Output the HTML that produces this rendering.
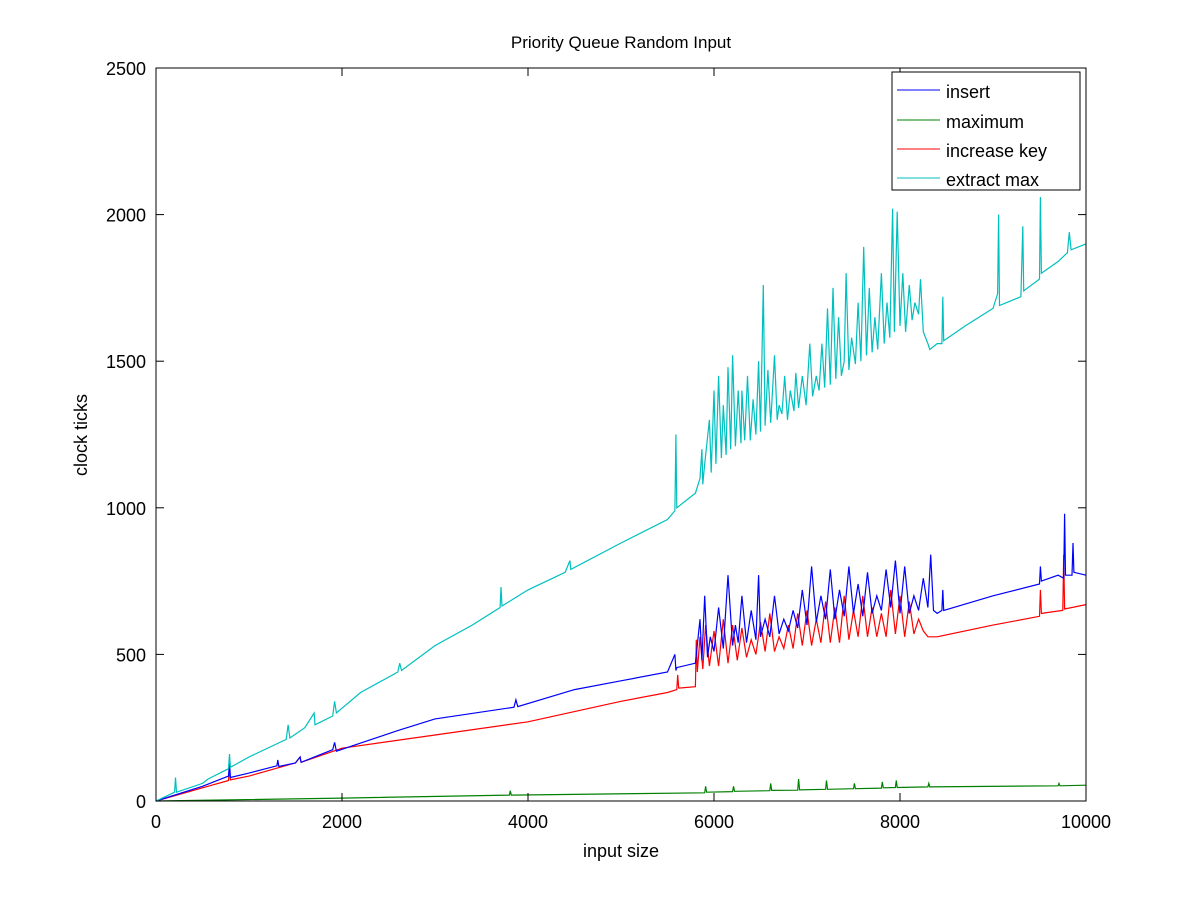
<!DOCTYPE html>
<html><head><meta charset="utf-8"><style>
body{margin:0;background:#fff;}
svg text{font-family:"Liberation Sans",sans-serif;fill:#000;}
</style></head><body>
<svg id="chart" width="1200" height="900" xmlns="http://www.w3.org/2000/svg">
<rect width="1200" height="900" fill="#fff"/>
<text x="621" y="48" font-size="17" text-anchor="middle">Priority Queue Random Input</text>
<g id="plot"></g>
<g id="axes"></g>
<text x="621" y="857" font-size="18" text-anchor="middle">input size</text>
<text x="87" y="435" font-size="18" text-anchor="middle" transform="rotate(-90 87 435)">clock ticks</text>
<g>
<rect x="892" y="72" width="188" height="118" fill="#fff" stroke="#000" stroke-width="1"/>
<line x1="897" y1="90" x2="940" y2="90" stroke="#0000ff"/><text x="946" y="98" font-size="18">insert</text>
<line x1="897" y1="120" x2="940" y2="120" stroke="#008000"/><text x="946" y="128" font-size="18">maximum</text>
<line x1="897" y1="149" x2="940" y2="149" stroke="#ff0000"/><text x="946" y="157" font-size="18">increase key</text>
<line x1="897" y1="178" x2="940" y2="178" stroke="#00bfbf"/><text x="946" y="186" font-size="18">extract max</text>
</g>
</svg>
<script>
const xTicks=[0,2000,4000,6000,8000,10000];
const yTicks=[0,500,1000,1500,2000,2500];
const extractX=[0,200,210,220,500,560,780,790,800,1000,1400,1420,1440,1600,1700,1710,1900,1920,1940,2200,2600,2620,2640,3000,3400,3700,3710,3720,4000,4400,4450,4460,5000,5500,5580,5590,5600,5800,5850,5870,5880,5900,5950,5970,6000,6020,6050,6080,6100,6130,6150,6180,6200,6230,6260,6290,6300,6330,6360,6390,6420,6450,6480,6500,6530,6550,6580,6610,6650,6680,6700,6730,6760,6790,6820,6860,6880,6910,6950,6990,7030,7060,7100,7130,7160,7190,7220,7250,7280,7310,7340,7370,7400,7420,7450,7480,7520,7550,7580,7610,7640,7670,7700,7730,7760,7800,7830,7860,7890,7920,7940,7970,8000,8030,8060,8100,8130,8160,8200,8220,8250,8300,8320,8400,8450,8460,8470,8700,9000,9050,9060,9070,9300,9320,9330,9500,9510,9520,9700,9800,9820,9840,10000];
const extractY=[0,30,80,30,60,75,110,160,115,150,210,260,215,250,300,260,290,340,300,370,440,470,445,530,600,660,730,665,720,780,820,790,880,960,990,1250,1000,1050,1100,1200,1080,1150,1300,1120,1400,1150,1450,1170,1350,1180,1480,1200,1520,1210,1400,1220,1400,1230,1450,1230,1370,1250,1500,1260,1760,1280,1470,1290,1520,1300,1350,1320,1450,1300,1400,1330,1460,1340,1450,1350,1560,1380,1450,1400,1560,1410,1680,1420,1750,1440,1650,1450,1500,1800,1470,1580,1490,1700,1500,1890,1520,1750,1530,1650,1540,1800,1560,1700,1580,2020,1600,2010,1620,1800,1600,1760,1640,1700,1660,1780,1600,1560,1540,1560,1560,1720,1570,1620,1680,1730,2000,1690,1720,1960,1740,1780,2060,1800,1840,1870,1940,1880,1900];
const insertX=[0,500,780,790,800,1000,1300,1310,1320,1500,1550,1560,1900,1920,1940,2600,3000,3850,3870,3890,4500,5000,5500,5580,5590,5600,5800,5850,5870,5900,5930,5960,6000,6050,6100,6150,6200,6230,6260,6300,6350,6400,6450,6480,6500,6550,6600,6650,6700,6750,6800,6850,6900,6950,7000,7050,7100,7150,7200,7250,7300,7350,7400,7450,7500,7550,7600,7650,7700,7750,7800,7850,7900,7950,8000,8050,8100,8150,8200,8250,8300,8330,8360,8400,8450,8460,8470,9000,9500,9510,9520,9700,9760,9770,9780,9850,9860,9870,10000];
const insertY=[0,50,85,130,80,95,120,140,118,130,150,132,175,200,170,240,280,320,345,322,380,410,440,500,445,455,470,620,480,700,490,560,510,660,520,770,530,600,540,700,540,650,550,770,560,620,560,700,570,620,580,650,590,720,600,800,610,700,620,790,620,720,630,800,640,740,630,780,640,700,650,790,660,820,640,800,640,700,650,760,660,840,650,640,650,720,650,700,740,800,750,770,760,980,770,770,880,780,770];
const increaseX=[0,500,780,790,800,1000,1500,1550,1560,2000,3000,4000,5000,5500,5600,5610,5620,5800,5810,5820,5850,5880,5910,5950,6000,6050,6100,6150,6200,6250,6300,6350,6400,6450,6500,6550,6600,6650,6700,6750,6800,6850,6900,6950,7000,7050,7100,7150,7200,7250,7300,7350,7400,7450,7500,7550,7600,7650,7700,7750,7800,7850,7900,7950,8000,8050,8100,8150,8200,8250,8300,8400,9000,9500,9510,9520,9750,9760,9770,10000];
const increaseY=[0,45,70,110,72,85,130,150,132,180,225,270,340,370,380,430,385,390,550,440,560,450,600,460,580,460,620,470,600,480,590,490,550,500,610,510,640,510,560,520,600,520,640,530,650,530,620,540,680,540,660,540,700,550,650,560,700,560,660,560,640,560,720,570,700,560,680,570,620,580,560,560,600,630,720,640,650,840,655,670];
const maxX=[0,2000,3800,3810,3820,5900,5910,5920,6200,6210,6220,6600,6610,6620,6900,6910,6920,7200,7210,7220,7500,7510,7520,7800,7810,7820,7950,7960,7970,8300,8310,8320,9700,9710,9720,10000];
const maxY=[0,10,20,35,20,28,50,30,32,50,33,35,60,36,37,75,38,40,70,40,42,60,42,44,65,45,46,70,46,48,60,48,52,60,52,54];
const X0=156,X1=1086,Y0=801,Y1=68;
function sx(v){return X0+(v-0)/(10000-0)*(X1-X0);}
function sy(v){return Y0-(v-0)/(2500-0)*(Y0-Y1);}
const NS='http://www.w3.org/2000/svg';
const plot=document.getElementById('plot');
function series(xs,ys,color,name){
  const p=document.createElementNS(NS,'polyline');
  p.setAttribute('points',xs.map((x,i)=>sx(x).toFixed(1)+','+sy(ys[i]).toFixed(1)).join(' '));
  p.setAttribute('fill','none');p.setAttribute('stroke',color);p.setAttribute('stroke-width','1.2');
  
  
  plot.appendChild(p);
}
series(maxX,maxY,'#008000','maximum-line');
series(increaseX,increaseY,'#ff0000','increase-key-line');
series(insertX,insertY,'#0000ff','insert-line');
series(extractX,extractY,'#00bfbf','extract-max-line');
const axes=document.getElementById('axes');
function el(tag,attrs){const e=document.createElementNS(NS,tag);for(const k in attrs)e.setAttribute(k,attrs[k]);axes.appendChild(e);return e;}
const box=el('rect',{x:X0,y:Y1,width:X1-X0,height:Y0-Y1,fill:'none',stroke:'#000','stroke-width':1});


xTicks.forEach(t=>{
  const x=sx(t);
  el('line',{x1:x,y1:Y0,x2:x,y2:Y0-8,stroke:'#000'});
  el('line',{x1:x,y1:Y1,x2:x,y2:Y1+8,stroke:'#000'});
  const tx=el('text',{x:x,y:Y0+27,'font-size':18,'text-anchor':'middle'});tx.textContent=t;
  
  
});
yTicks.forEach(t=>{
  const y=sy(t);
  el('line',{x1:X0,y1:y,x2:X0+8,y2:y,stroke:'#000'});
  el('line',{x1:X1,y1:y,x2:X1-8,y2:y,stroke:'#000'});
  const tx=el('text',{x:X0-10,y:y+7,'font-size':18,'text-anchor':'end'});tx.textContent=t;
  
  
});
</script>
</body></html>
